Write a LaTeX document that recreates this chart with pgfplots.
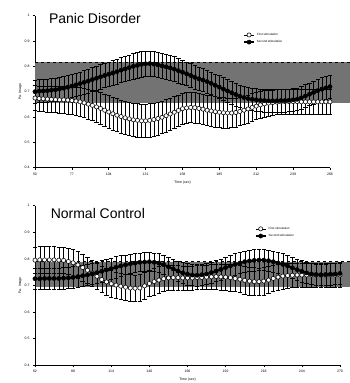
\documentclass[border=0pt]{standalone}
\usepackage{pgfplots}
\pgfplotsset{compat=1.18}
\usepackage{pgfplotstable}
\usepackage{fontspec}
\setmainfont{Liberation Sans}

\pgfplotstableread{
x s1 e1 s2 e2
50 .675 .050 .700 .045
53 .673 .050 .702 .045
56 .672 .050 .703 .045
59 .671 .051 .704 .045
62 .670 .052 .706 .045
65 .669 .052 .708 .045
68 .668 .053 .711 .045
71 .668 .054 .714 .045
74 .667 .055 .718 .046
77 .665 .055 .722 .046
80 .663 .056 .727 .046
83 .660 .057 .732 .046
86 .656 .058 .737 .047
89 .651 .059 .742 .047
92 .646 .060 .748 .047
95 .640 .061 .753 .047
98 .634 .062 .759 .048
101 .627 .063 .764 .048
104 .620 .064 .769 .048
107 .613 .064 .774 .048
110 .607 .065 .779 .049
113 .602 .065 .785 .049
116 .597 .066 .790 .050
119 .593 .066 .795 .050
122 .589 .066 .800 .050
125 .587 .066 .804 .050
128 .585 .066 .808 .050
131 .585 .066 .810 .050
134 .587 .066 .811 .050
137 .590 .065 .809 .050
140 .594 .065 .806 .050
143 .599 .064 .802 .050
146 .605 .064 .798 .050
149 .612 .063 .794 .049
152 .619 .062 .789 .049
155 .626 .061 .783 .048
158 .633 .060 .777 .048
161 .636 .060 .771 .047
164 .638 .060 .764 .047
167 .637 .060 .757 .046
170 .634 .060 .751 .046
173 .631 .060 .746 .046
176 .627 .060 .740 .046
179 .624 .060 .733 .045
182 .621 .060 .725 .045
185 .619 .060 .718 .045
188 .617 .060 .710 .045
191 .616 .059 .703 .045
194 .616 .058 .696 .045
197 .618 .057 .689 .045
200 .622 .056 .682 .045
203 .627 .055 .677 .045
206 .632 .055 .673 .045
209 .638 .054 .670 .045
212 .643 .053 .668 .045
215 .648 .052 .666 .045
218 .652 .052 .665 .045
221 .655 .051 .664 .045
224 .657 .050 .664 .045
227 .659 .050 .664 .045
230 .660 .050 .665 .045
233 .661 .050 .665 .045
236 .661 .050 .666 .045
239 .661 .050 .668 .045
242 .661 .050 .670 .045
245 .660 .050 .676 .045
248 .660 .050 .683 .045
251 .660 .050 .690 .045
254 .660 .050 .697 .045
257 .660 .050 .704 .045
260 .660 .050 .710 .045
263 .660 .050 .715 .045
266 .660 .050 .720 .045
}\panic

\pgfplotstableread{
x s1 e1 s2 e2
62 .795 .050 .725 .040
65.25 .796 .050 .725 .040
68.5 .796 .050 .726 .040
71.75 .796 .050 .726 .040
75 .796 .050 .726 .040
78.25 .795 .050 .726 .040
81.5 .794 .050 .727 .040
84.75 .790 .050 .728 .040
88 .785 .050 .730 .040
91.25 .777 .050 .733 .040
94.5 .767 .050 .736 .040
97.75 .757 .050 .739 .040
101 .746 .050 .743 .040
104.25 .734 .050 .748 .040
107.5 .722 .050 .753 .040
110.75 .713 .050 .758 .040
114 .706 .050 .763 .040
117.25 .701 .050 .768 .040
120.5 .697 .050 .773 .039
123.75 .693 .050 .777 .037
127 .690 .050 .781 .036
130.25 .689 .050 .784 .036
133.5 .690 .050 .787 .035
136.75 .698 .050 .788 .035
140 .707 .050 .789 .035
143.25 .714 .050 .787 .035
146.5 .720 .050 .784 .035
149.75 .725 .049 .778 .035
153 .728 .048 .770 .036
156.25 .729 .047 .762 .037
159.5 .729 .046 .754 .038
162.75 .728 .045 .747 .039
166 .728 .045 .742 .040
169.25 .728 .045 .739 .040
172.5 .729 .045 .738 .040
175.75 .730 .045 .740 .040
179 .731 .046 .743 .040
182.25 .732 .047 .748 .040
185.5 .733 .048 .754 .040
188.75 .732 .049 .760 .040
192 .731 .050 .767 .040
195.25 .729 .050 .773 .040
198.5 .726 .050 .779 .040
201.75 .723 .051 .784 .040
205 .719 .052 .789 .040
208.25 .716 .052 .792 .040
211.5 .714 .053 .794 .040
214.75 .714 .052 .795 .040
218 .716 .052 .795 .040
221.25 .720 .051 .793 .040
224.5 .726 .050 .789 .040
227.75 .731 .049 .784 .040
231 .735 .048 .779 .040
234.25 .737 .047 .773 .040
237.5 .738 .046 .766 .040
240.75 .739 .045 .759 .040
244 .739 .045 .753 .040
247.25 .739 .045 .747 .040
250.5 .739 .045 .743 .040
253.75 .739 .045 .741 .040
257 .739 .045 .740 .040
260.25 .739 .045 .741 .040
263.5 .739 .045 .742 .040
266.75 .739 .045 .743 .040
270 .739 .045 .745 .040
}\normal

\pgfplotsset{
  mystyle/.style={
    scale only axis,
    axis x line=bottom, axis y line=left,
    axis line style={-, line width=0.8pt},
    ymin=0.4, ymax=1.0,
    ytick={0.4,0.5,0.6,0.7,0.8,0.9,1.0},
    yticklabels={0.4,0.5,0.6,0.7,0.8,0.9,1},
    tick style={black, line width=0.5pt},
    major tick length=2pt,
    tick align=outside,
    ticklabel style={font=\fontsize{3.5}{4}\selectfont},
    /pgf/number format/assume math mode=true,
    xlabel={Time (sec)}, ylabel={Pa. Image},
    label style={font=\fontsize{3.5}{4}\selectfont},
    clip=false,
    legend style={draw=none, fill=none, font=\fontsize{3}{3.5}\selectfont, inner sep=0pt, row sep=-0.5pt},
    legend cell align=left,
  },
  sfirst/.style={black, line width=0.5pt, mark=*, mark size=2.1pt,
    mark options={fill=white, draw=black, solid, line width=0.55pt},
    legend image code/.code={\draw[mark repeat=2,mark phase=2,##1] plot coordinates {(0pt,0pt)(5pt,0pt)(10pt,0pt)};},
    error bars/.cd, y dir=both, y explicit,
    error bar style={line width=0.3pt, black, double=white, double distance=0.8pt},
    error mark options={rotate=90, mark size=2.2pt, line width=0.6pt, black}},
  ssecond/.style={black, line width=1.8pt, mark=*, mark size=2.1pt,
    mark options={fill=black, draw=black, solid, line width=0.5pt},
    legend image code/.code={\draw[mark repeat=2,mark phase=2,##1] plot coordinates {(0pt,0pt)(5pt,0pt)(10pt,0pt)};},
    error bars/.cd, y dir=both, y explicit,
    error bar style={line width=0.3pt, black, double=white, double distance=0.8pt},
    error mark options={rotate=90, mark size=2.2pt, line width=0.6pt, black}},
}

\begin{document}
\begin{tikzpicture}
\useasboundingbox (-35pt,-215.3pt) rectangle (315pt,167.7pt);
% Panic Disorder
\begin{axis}[mystyle, width=295pt, height=152pt,
  xmin=50, xmax=266,
  xtick={50,77,104,131,158,185,212,239,266},
  legend style={at={(0.705,0.9)}, anchor=north west},
  xlabel style={yshift=2pt}, ylabel style={yshift=-4pt}]
\addplot[fill=black!55, draw=none, forget plot] coordinates {(50,0.655) (281,0.655) (281,0.817) (50,0.817)} -- cycle;
\addplot[black, dashed, line width=0.6pt, forget plot] coordinates {(50,0.817) (281,0.817)};
\addplot[sfirst] table[x=x, y=s1, y error=e1] {\panic};
\addlegendentry{First stimulation}
\addplot[ssecond] table[x=x, y=s2, y error=e2] {\panic};
\addlegendentry{Second stimulation}
\node[anchor=north west, inner sep=0pt, font=\fontsize{14}{16}\selectfont] at (rel axis cs:0.047,1.018) {Panic Disorder};
\end{axis}
% Normal Control
\begin{axis}[mystyle, at={(0pt,-197.3pt)}, anchor=south west,
  width=305pt, height=159.3pt,
  xmin=62, xmax=270,
  xtick={62,88,114,140,166,192,218,244,270},
  legend style={at={(0.72,0.88)}, anchor=north west},
  xlabel style={yshift=2pt}, ylabel style={yshift=-4pt}]
\addplot[fill=black!55, draw=none, forget plot] coordinates {(62,0.695) (277,0.695) (277,0.789) (62,0.789)} -- cycle;
\addplot[black, dashed, line width=0.6pt, forget plot] coordinates {(62,0.789) (277,0.789)};
\addplot[sfirst] table[x=x, y=s1, y error=e1] {\normal};
\addlegendentry{First stimulation}
\addplot[ssecond] table[x=x, y=s2, y error=e2] {\normal};
\addlegendentry{Second stimulation}
\node[anchor=north west, inner sep=0pt, font=\fontsize{14}{16}\selectfont] at (rel axis cs:0.051,0.986) {Normal Control};
\end{axis}
\end{tikzpicture}
\end{document}
